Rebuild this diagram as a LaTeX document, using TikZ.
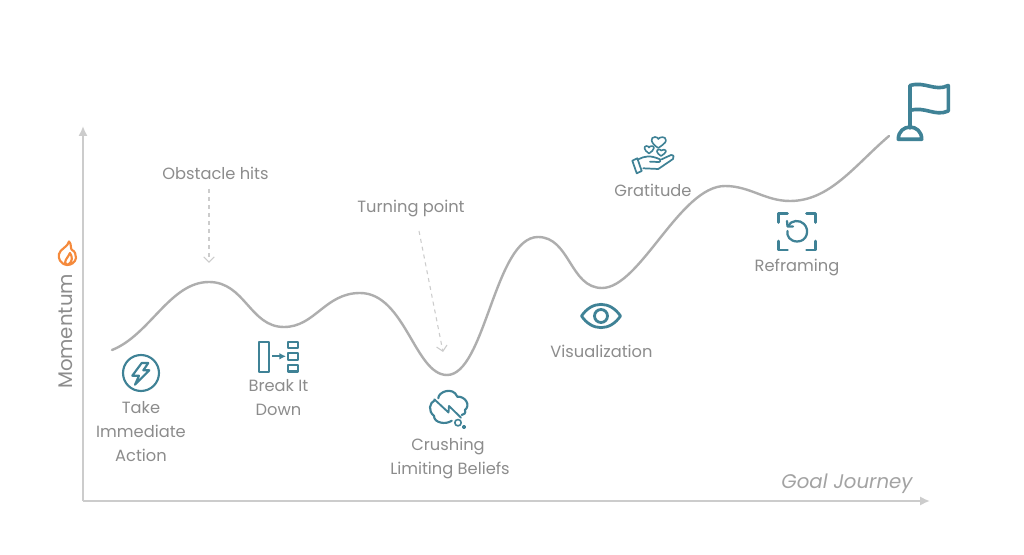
\documentclass[tikz,border=0pt]{standalone}
\usepackage{fontspec}
\setmainfont{Poppins}
\usetikzlibrary{arrows.meta, positioning}
\definecolor{tealicon}{HTML}{3F8296}
\definecolor{axisgray}{HTML}{CCCCCC}
\definecolor{curvegray}{HTML}{AEAEAE}
\definecolor{textgray}{HTML}{8C8C8C}
\definecolor{flameorange}{HTML}{F58A3C}
\tikzset{
    steplabel/.style={align=center, text=textgray, font=\fontsize{12.2}{18}\selectfont},
    iconline/.style={draw=tealicon, line width=1.6pt, line join=round, line cap=round},
    axisline/.style={draw=axisgray, line width=1.5pt, -{Latex[length=7.5pt,width=7pt]}},
    hintarrow/.style={draw=axisgray, line width=0.8pt, dashed, -{Straight Barb[length=4pt,width=8pt]}}
}
\begin{document}
\begin{tikzpicture}[x=0.75pt,y=-0.75pt]
    \useasboundingbox (0,0) rectangle (1024,555);
    \fill[white] (0,0) rectangle (1024,555);
    \coordinate (origin) at (83,501);
    \coordinate (ytop) at (83,126);
    \coordinate (xend) at (930,501);
    \draw[axisline] (origin) -- (ytop);
    \draw[axisline] (origin) -- (xend);
    \draw[curvegray, line width=1.8pt, line cap=round] (112,350) .. controls (150,335) and (170,282) .. (209,282) .. controls (245,282) and (250,327) .. (284,327) .. controls (315,327) and (325,293) .. (360,293) .. controls (405,293) and (415,375) .. (447,375) .. controls (485,375) and (495,237) .. (538,237) .. controls (570,237) and (570,288) .. (602,288) .. controls (640,288) and (680,186) .. (725,186) .. controls (750,186) and (765,201) .. (790,201) .. controls (830,201) and (855,165) .. (889,136);
    \node[steplabel] (obstacle) at (215.5,173) {Obstacle hits};
    \node[steplabel] (turning) at (411,209) {Turning point};
    \coordinate (obstaclefrom) at (209,189);
    \coordinate (obstacleto) at (209,263);
    \coordinate (turningfrom) at (419,231);
    \coordinate (turningto) at (443,352);
    \draw[hintarrow] (obstaclefrom) -- (obstacleto);
    \draw[hintarrow] (turningfrom) -- (turningto);
    \node[steplabel, font=\fontsize{14.8}{18}\selectfont, rotate=90] (momentum) at (66,331.5) {Momentum};
    \node[steplabel, font=\fontsize{14.8}{18}\selectfont\itshape, text=axisgray!80!black] (journey) at (847,484) {Goal Journey};
    \node[steplabel] (take) at (141,432) {Take\\Immediate\\Action};
    \node[steplabel] (breakdown) at (278.5,398) {Break It\\Down};
    \node[steplabel] (crushing) at (450,459) {Crushing\hspace*{3pt}\\Limiting Beliefs};
    \node[steplabel] (visual) at (601.5,351) {Visualization};
    \node[steplabel] (gratitude) at (653,190) {Gratitude};
    \node[steplabel] (reframing) at (797,267) {Reframing};
    \draw[flameorange, line width=1.6pt, line join=round] (67,265) .. controls (60,264) and (58,258) .. (59,254) .. controls (60,249) and (68,247) .. (69,241.5) .. controls (72,244) and (70,249) .. (72,250) .. controls (75,251) and (76,255) .. (76,258) .. controls (75,263) and (71,265) .. (67,265) .. controls (62,262) and (68,258) .. (70,253) .. controls (72,256) and (74,262) .. (67,265);
    \draw[iconline] (141,373) circle (18);
    \draw[iconline] (141.7,363) -- (148.3,363) -- (143.3,370.3) -- (149.3,370.3) -- (135,384.7) -- (139,375.7) -- (132.3,375.7) -- cycle;
    \draw[iconline] (259,341.7) rectangle (269.3,371.7);
    \draw[iconline] (287.7,342) rectangle (298.3,348.3);
    \draw[iconline] (287.7,353.3) rectangle (298.3,359.7);
    \draw[iconline] (287.7,365) rectangle (298.3,371.5);
    \draw[tealicon, line width=1.4pt, -{Latex[length=5pt,width=5pt]}] (272.3,356.3) -- (286,356.3);
    \draw[iconline] (438.3,398.3) .. controls (438,392) and (453,386) .. (457.3,396.7) .. controls (465,396) and (471,405) .. (465,410) .. controls (466,413) and (464,415) .. (461.7,415);
    \draw[iconline] (435,400) .. controls (429,403) and (428,411) .. (434,416) .. controls (434,423) and (446,425) .. (451.7,420.7);
    \draw[iconline, line width=1.4pt] (434.3,399.3) -- (448.5,412.5) -- (449,406) -- (461,417.7);
    \draw[iconline, line width=1.2pt] (458,422.7) circle (3.2);
    \draw[iconline, line width=1.2pt] (464,427) circle (1.4);
    \draw[iconline, line width=2.1pt] (581.5,316) .. controls (592,300.500) and (610,300.500) .. (620.5,316) .. controls (610,331.500) and (592,331.500) .. (581.5,316) -- cycle;
    \draw[iconline, line width=2.1pt] (601,316) circle (6.5);
    \draw[iconline, line width=1.2pt] (658.3,148) .. controls (650,143) and (650,137) .. (655,137) .. controls (657,137) and (658,138) .. (658.3,139) .. controls (659,137) and (666,135.500) .. (666,140.500) .. controls (666,143) and (661,146) .. (658.3,148) -- cycle;
    \draw[iconline, line width=1.2pt] (649,153.500) .. controls (643.500,150) and (643.500,146) .. (646.500,146) .. controls (648,146) and (649,147) .. (649,147.5) .. controls (649.5,146) and (654,145) .. (654,148) .. controls (654,150) and (651,152) .. (649,153.500) -- cycle;
    \draw[iconline, line width=1.2pt] (661,156) .. controls (656,153) and (656,149.500) .. (659,149.500) .. controls (660,149.500) and (661,150) .. (661,150.500) .. controls (662,149.500) and (666,149) .. (666,151.500) .. controls (666,153) and (663,154.500) .. (661,156) -- cycle;
    \draw[iconline, line width=1.3pt] (632.3,160.7) -- (637.3,158.3) -- (641.7,171) -- (636.7,173.3) -- cycle;
    \draw[iconline, line width=1.3pt] (638.3,159.3) .. controls (645,156) and (650,155) .. (660,159.3) .. controls (661,161) and (660,162) .. (659,162) -- (650,161.7);
    \draw[iconline, line width=1.3pt] (661.7,159.3) -- (671,155) .. controls (674,155) and (674,157) .. (673,159) -- (658.3,169) -- (643.3,168.300);
    \draw[iconline, line width=2pt] (778.3,222.5) -- (778.3,213.3) -- (787.500,213.3);
    \draw[iconline, line width=2pt] (806.500,213.3) -- (815.7,213.3) -- (815.7,222.5);
    \draw[iconline, line width=2pt] (778.3,241) -- (778.3,250) -- (787.500,250);
    \draw[iconline, line width=2pt] (806.500,250) -- (815.7,250) -- (815.7,241);
    \draw[iconline, line width=1.7pt] (788,226) .. controls (791,220) and (800,219.500) .. (804,224) .. controls (810,230) and (807,241.500) .. (797.3,241.500) .. controls (790,241.500) and (786.500,236) .. (787.500,231);
    \draw[iconline, line width=1.7pt] (787,221) -- (787.500,226.500) -- (793,226.500);
    \draw[iconline, line width=2.7pt] (910,128) -- (910,85.500) .. controls (925,81) and (935,92) .. (948.3,85.500) -- (948.3,111) .. controls (935,117) and (925,106) .. (910,110.500);
    \draw[iconline, line width=2.7pt] (898.3,139.300) .. controls (898.3,123) and (921.7,123) .. (921.7,139.300) -- cycle;
\end{tikzpicture}
\end{document}
